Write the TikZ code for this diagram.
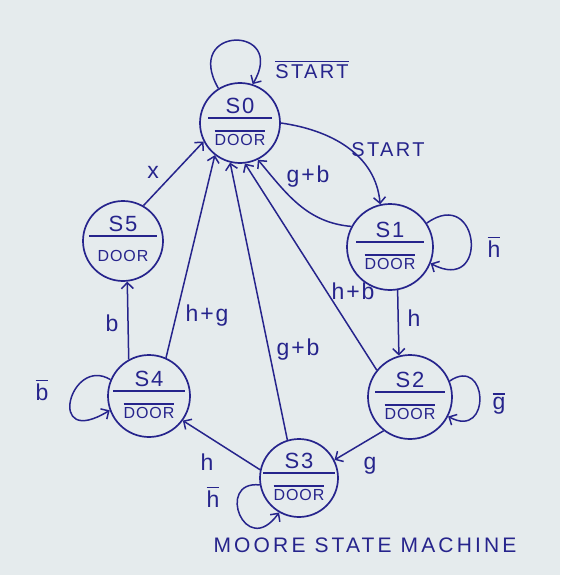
\documentclass[tikz,border=0pt]{standalone}
\usepackage{fontspec}
\setmainfont{Liberation Sans}
\usetikzlibrary{arrows.meta}
\definecolor{ink}{RGB}{38,36,140}
\definecolor{paper}{RGB}{229,235,237}
\newcommand\ob[1]{\vbox{\hrule height 1.4pt\kern 2.5pt\hbox{#1}}}
% name, x, y, diameter, title, output, divider half-width
\newcommand\mstate[7]{%
  \node[st, minimum size=#4pt] (#1) at (#2,#3) {};
  \node[nm] (#1t) at ([yshift=17pt]#1.center) {#5};
  \node[outp] (#1o) at ([yshift=-15pt]#1.center) {#6};
  \draw[divl] ([xshift=-#7pt,yshift=5pt]#1.center) -- ([xshift=#7pt,yshift=5pt]#1.center);
}
\begin{document}
\begin{tikzpicture}[x=1pt,y=-1pt,
  st/.style={circle, draw=ink, line width=1.7pt, inner sep=0pt},
  nm/.style={text=ink, font=\fontsize{22}{24}\selectfont\addfontfeature{LetterSpace=8}, inner sep=0pt},
  outp/.style={text=ink, font=\fontsize{16}{18}\selectfont\addfontfeature{LetterSpace=6}, inner sep=0pt},
  divl/.style={draw=ink, line width=1.5pt},
  arr/.style={draw=ink, line width=1.5pt, -{Straight Barb[length=6pt,width=12pt,line width=1.5pt]}},
  lbl/.style={text=ink, font=\fontsize{23}{25}\selectfont\addfontfeature{LetterSpace=8}, inner sep=0pt},
  capl/.style={text=ink, font=\fontsize{20}{22}\selectfont\addfontfeature{LetterSpace=12}, inner sep=0pt},
  ttl/.style={text=ink, font=\fontsize{21}{22}\selectfont\addfontfeature{LetterSpace=15}, inner sep=0pt}]
\fill[paper] (0,0) rectangle (560,575);
\useasboundingbox (0,0) rectangle (560,575);

\mstate{S0}{240}{123}{80}{S0}{\ob{DOOR}}{32}
\mstate{S1}{390}{247}{86}{S1}{\ob{DOOR}}{34}
\mstate{S5}{123}{241}{80}{S5}{DOOR}{34}
\mstate{S2}{410}{397}{84}{S2}{\ob{DOOR}}{35}
\mstate{S4}{149}{396}{82}{S4}{\ob{DOOR}}{36}
\mstate{S3}{299}{478}{78}{S3}{\ob{DOOR}}{36}

% self loops
\draw[arr] (S0.122) .. controls (182,25) and (288,25) .. (S0.72);
\draw[arr] (S1.33) .. controls (480,185) and (490,295) .. (S1.-22);
\draw[arr] (S2.22) .. controls (488,355) and (492,440) .. (S2.-27);
\draw[arr] (S4.157) .. controls (70,355) and (45,450) .. (S4.200);
\draw[arr] (S3.190) .. controls (215,480) and (245,560) .. (S3.240);

% transitions
\draw[arr] (S0.0) to[out=-8,in=95] (S1.103);
\draw[arr] (S1.152) to[out=175,in=-50] (S0.-64);
\draw[arr] (S1.-80) -- (S2.105);
\draw[arr] (S2.141) -- (S0.-83);
\draw[arr] (S2.232) -- (S3.27);
\draw[arr] (S3.107) -- (S0.256);
\draw[arr] (S3.168) -- (S4.-36);
\draw[arr] (S4.66) -- (S0.232);
\draw[arr] (S4.119) -- (S5.-84);
\draw[arr] (S5.60) -- (S0.207);

% labels
\node[capl] (lstart0) at (312,70) {\ob{START}};
\node[lbl] (lh1) at (494,247) {\ob{h}};
\node[lbl] (lg2) at (499,404) {\ob{g}};
\node[lbl] (lb4) at (42,390) {\ob{b}};
\node[lbl] (lh3) at (213,497) {\ob{h}};
\node[capl] (lstart) at (388,150) {START};
\node[lbl] (lgb1) at (308,177) {g+b};
\node[lbl] (lx) at (153,172) {x};
\node[lbl] (lhg) at (207,316) {h+g};
\node[lbl] (lb) at (112,323) {b};
\node[lbl] (lgb3) at (298,350) {g+b};
\node[lbl] (lhb) at (353,291) {h+b};
\node[lbl] (lh12) at (414,318) {h};
\node[lbl] (lg23) at (370,466) {g};
\node[lbl] (lh34) at (207,462) {h};
\node[ttl] (title) at (365,545) {MOORE STATE MACHINE};
\end{tikzpicture}
\end{document}
